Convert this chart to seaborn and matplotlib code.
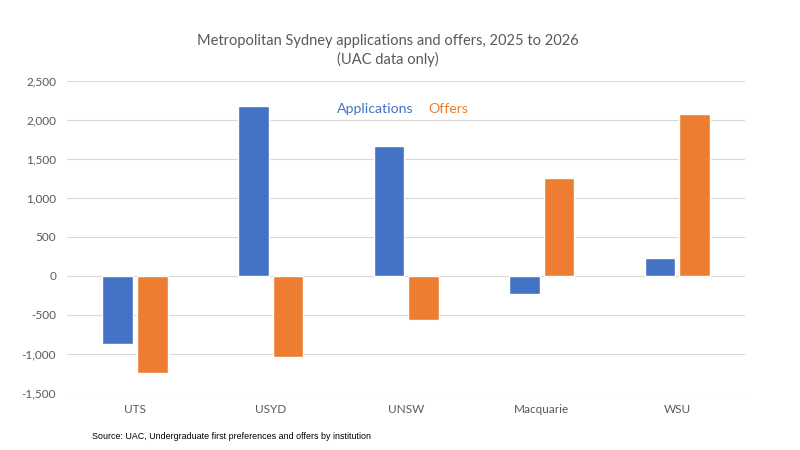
import matplotlib
matplotlib.use("Agg")
import matplotlib.pyplot as plt
import seaborn as sns
import pandas as pd
from matplotlib.ticker import FuncFormatter

institutions = ["UTS", "USYD", "UNSW", "Macquarie", "WSU"]
applications = [-873, 2175, 1670, -226, 230]
offers = [-1243, -1039, -562, 1255, 2077]
series_names = ["Applications", "Offers"]
colors = ["#4472C4", "#ED7D31"]

df = pd.DataFrame({
    "Institution": institutions * 2,
    "Series": [series_names[0]] * len(institutions) + [series_names[1]] * len(institutions),
    "Change": applications + offers,
})

sns.set_theme(style="white")
plt.rcParams['font.family'] = ['Lato', 'DejaVu Sans']

fig = plt.figure(figsize=(8, 4.5), dpi=100)
ax = fig.add_axes([0.0841, 0.1267, 0.847, 0.6933])

sns.barplot(data=df, x="Institution", y="Change", hue="Series", order=institutions,
            hue_order=series_names, palette=colors, width=0.51, gap=0.116,
            saturation=1, ax=ax, zorder=3)

ax.set_ylim(-1500, 2500)
ax.set_yticks(range(-1500, 2501, 500))
ax.yaxis.set_major_formatter(FuncFormatter(lambda v, p: f"{int(v):,}"))
ax.grid(axis="y", color="#D9D9D9", linewidth=0.8, zorder=0)
ax.set_axisbelow(True)
for s in ax.spines.values():
    s.set_visible(False)
ax.set_xlabel("")
ax.set_ylabel("")
ax.tick_params(axis="both", length=0, labelsize=8.5, labelcolor="#595959")
ax.tick_params(axis="y", pad=8)
ax.tick_params(axis="x", pad=8)

leg = ax.legend(loc="upper center", bbox_to_anchor=(0.495, 0.97), ncol=2, frameon=False,
                handlelength=0, handletextpad=0, columnspacing=1.1, fontsize=10.2)
for h in leg.legend_handles:
    h.set_visible(False)
for t, c in zip(leg.get_texts(), colors):
    t.set_color(c)

fig.text(0.485, 0.887, "Metropolitan Sydney applications and offers, 2025 to 2026\n(UAC data only)",
         ha="center", va="center", fontsize=10.5, color="#595959", linespacing=1.32)
fig.text(0.115, 0.031, "Source: UAC, Undergraduate first preferences and offers by institution",
         ha="left", va="center", fontsize=6.4, color="black", family=["Liberation Sans", "DejaVu Sans"])

fig.savefig("out.png", dpi=100)
